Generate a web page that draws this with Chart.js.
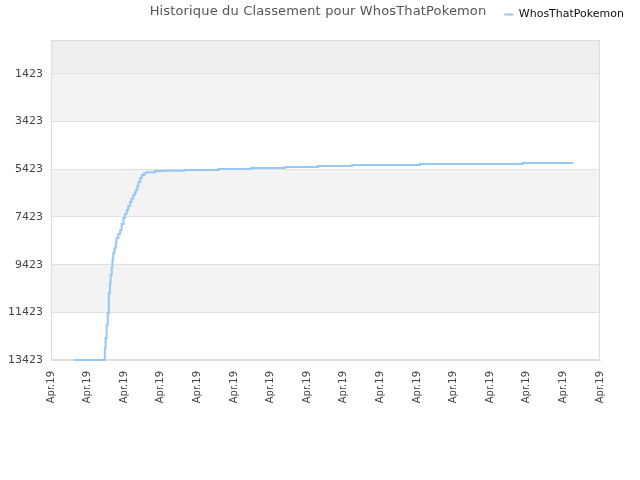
<!DOCTYPE html>
<html>
<head>
<meta charset="utf-8">
<script src="https://cdn.jsdelivr.net/npm/chart.js@4/dist/chart.umd.min.js"></script>
<style>
  html, body { margin: 0; padding: 0; background: #fff; }
  #wrap { width: 640px; height: 480px; }
</style>
</head>
<body>
<div id="wrap"><canvas id="rankChart"></canvas></div>
<script>
// x positions in tick units (0..15, each tick labelled "Apr.19"), ranks
const dayPos = [0.63, 1.45, 1.47, 1.49, 1.52, 1.55, 1.58, 1.61, 1.63, 1.66, 1.68, 1.70, 1.73, 1.75,
                1.77, 1.79, 1.84, 1.89, 1.93, 1.98, 2.02, 2.07, 2.11, 2.16, 2.20, 2.25, 2.29, 2.32,
                2.36, 2.39, 2.44, 2.48, 2.54, 2.61, 2.84, 3.07, 3.64, 4.57, 5.46, 6.39, 7.30, 8.23,
                10.08, 12.88, 14.27];
const ranks = [13423, 13423, 12950, 12500, 11950, 11460, 10620, 10200, 9850, 9530, 9200, 8940, 8800, 8690,
               8500, 8310, 8140, 7970, 7720, 7470, 7300, 7130, 6960, 6800, 6650, 6500, 6400, 6290,
               6120, 5960, 5800, 5660, 5590, 5550, 5500, 5480, 5455, 5413, 5371, 5329, 5287, 5245,
               5203, 5161, 5161];
const yTicks = [1423, 3423, 5423, 7423, 9423, 11423, 13423];
const xTickCount = 16;
const xLabel = 'Apr.19';
const seriesName = 'WhosThatPokemon';
const chartTitle = 'Historique du Classement pour WhosThatPokemon';

const points = dayPos.map((x, i) => ({ x: x, y: ranks[i] }));

// alternating bands behind the plot, between the y ticks, plus the frame and title
const bandPlugin = {
    id: 'bands',
    afterLayout(chart) {
        // legend sits on the title row, a bit right of the plot
        const lg = chart.legend;
        lg.top -= 10; lg.bottom -= 10;
        lg.left += 38; lg.right += 38;
    },
    beforeDraw(chart) {
        const { ctx, chartArea, scales } = chart;
        const y = scales.y;
        const edges = [y.min].concat(yTicks);
        ctx.save();
        for (let i = 0; i < edges.length - 1; i++) {
            const top = y.getPixelForValue(edges[i]);
            const bottom = y.getPixelForValue(edges[i + 1]);
            let fill = null;
            if (i === 0) fill = '#eeeeee';
            else if (i % 2 === 1) fill = '#f3f3f3';
            if (fill) {
                ctx.fillStyle = fill;
                ctx.fillRect(chartArea.left, top, chartArea.right - chartArea.left, bottom - top);
            }
        }
        ctx.restore();
    },
    beforeDatasetsDraw(chart) {
        const { ctx, chartArea } = chart;
        ctx.save();
        ctx.strokeStyle = '#dddddd';
        ctx.lineWidth = 1;
        ctx.strokeRect(chartArea.left + 0.5, chartArea.top + 0.5,
            chartArea.right - chartArea.left - 1, chartArea.bottom - chartArea.top - 1);
        ctx.restore();
    },
    afterDraw(chart) {
        const { ctx } = chart;
        ctx.save();
        ctx.fillStyle = '#555555';
        ctx.font = '13px "DejaVu Sans"';
        ctx.letterSpacing = '0.15px';
        ctx.textAlign = 'center';
        ctx.textBaseline = 'middle';
        ctx.fillText(chartTitle, 318, 12);
        ctx.restore();
    }
};

new Chart(document.getElementById('rankChart'), {
    type: 'line',
    data: {
        datasets: [{
            label: seriesName,
            data: points,
            stepped: true,
            borderColor: 'rgb(150, 200, 245)',
            backgroundColor: 'rgb(150, 200, 245)',
            borderWidth: 2,
            pointRadius: 0,
            fill: false,
            clip: 2
        }]
    },
    options: {
        responsive: true,
        maintainAspectRatio: false,
        animation: false,
        layout: { padding: { left: 0, right: 40, top: 5, bottom: 0 } },
        plugins: {
            legend: {
                position: 'top',
                align: 'end',
                labels: {
                    usePointStyle: true,
                    pointStyle: 'line',
                    pointStyleWidth: 9,
                    boxWidth: 9,
                    color: '#111',
                    font: { family: 'DejaVu Sans', size: 11 },
                    padding: 14
                }
            },
            title: { display: false },
            tooltip: { enabled: false }
        },
        scales: {
            x: {
                type: 'linear',
                min: 0,
                max: xTickCount - 1,
                afterBuildTicks(scale) {
                    scale.ticks = Array.from({ length: xTickCount }, (_, i) => ({ value: i }));
                },
                afterFit(scale) { scale.height = 120; },
                grid: { display: false },
                border: { color: '#dddddd' },
                ticks: {
                    autoSkip: false,
                    maxRotation: 90,
                    minRotation: 90,
                    color: '#444',
                    font: { family: 'DejaVu Sans', size: 10 },
                    callback: () => xLabel
                }
            },
            y: {
                reverse: true,
                min: 0,
                max: 13423,
                afterBuildTicks(scale) {
                    scale.ticks = yTicks.map(v => ({ value: v }));
                },
                afterFit(scale) { scale.width = 51; },
                grid: { color: '#e0e0e0', drawTicks: false },
                border: { color: '#dddddd' },
                ticks: {
                    color: '#444',
                    padding: 8,
                    font: { family: 'DejaVu Sans', size: 11 },
                    callback: v => String(v)
                }
            }
        }
    },
    plugins: [bandPlugin]
});
</script>
</body>
</html>
